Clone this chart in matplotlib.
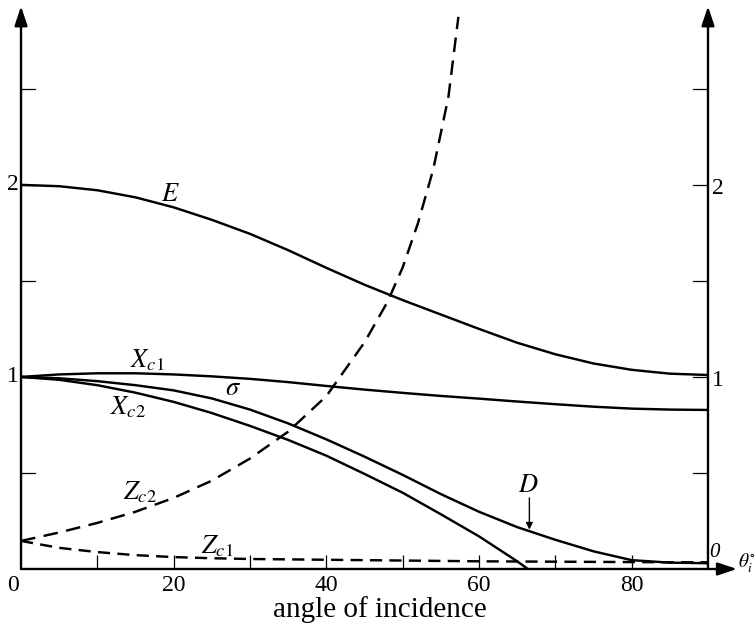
import matplotlib
matplotlib.use("Agg")
import matplotlib.pyplot as plt
import numpy as np

plt.rcParams['mathtext.fontset'] = 'stix'
plt.rcParams['font.family'] = ['Liberation Serif', 'DejaVu Serif']

# ---- data ----
angles = [0, 5, 10, 15, 20, 25, 30, 35, 40, 45, 50, 55, 60, 65, 70, 75, 80, 85, 90]
E_vals = [2.00, 1.993, 1.972, 1.935, 1.883, 1.818, 1.745, 1.66, 1.568, 1.48, 1.40,
          1.325, 1.25, 1.178, 1.118, 1.07, 1.037, 1.017, 1.01]
Xc1_vals = [1.0, 1.013, 1.019, 1.019, 1.013, 1.003, 0.99, 0.973, 0.953, 0.934, 0.917,
            0.901, 0.887, 0.872, 0.858, 0.845, 0.835, 0.83, 0.828]
sigma_vals = [1.0, 0.993, 0.978, 0.957, 0.93, 0.888, 0.83, 0.758, 0.675, 0.585, 0.49,
              0.39, 0.298, 0.218, 0.152, 0.092, 0.046, 0.033, 0.03]
Xc2_angles = [0, 5, 10, 15, 20, 25, 30, 35, 40, 45, 50, 55, 60, 65, 66.4]
Xc2_vals = [1.0, 0.985, 0.957, 0.918, 0.87, 0.812, 0.745, 0.672, 0.59, 0.495, 0.397,
            0.285, 0.17, 0.04, 0.0]
Zc2_angles = [0, 5, 10, 15, 20, 25, 30, 35, 40, 45, 48, 50, 52, 54, 56, 57.3]
Zc2_vals = [0.146, 0.19, 0.24, 0.298, 0.37, 0.46, 0.575, 0.715, 0.9, 1.18, 1.39, 1.57,
            1.80, 2.08, 2.46, 2.875]
Zc1_vals = [0.146, 0.11, 0.088, 0.072, 0.062, 0.056, 0.052, 0.05, 0.048, 0.046, 0.044,
            0.042, 0.04, 0.039, 0.038, 0.037, 0.036, 0.035, 0.035]

xtick_major = [20, 40, 60, 80]
xtick_all = [10, 20, 30, 40, 50, 60, 70, 80]
ytick_pos = [0.5, 1.0, 1.5, 2.0, 2.5]

fig = plt.figure(figsize=(7.56, 6.23), dpi=100)
ax = fig.add_axes([0.0278, 0.0867, 0.9087, 0.894])
ax.set_xlim(0, 90)
ax.set_ylim(0, 2.9)
for s in ax.spines.values():
    s.set_visible(False)

lw = 1.75
ax.plot(angles, E_vals, color='k', lw=lw)
ax.plot(angles, Xc1_vals, color='k', lw=lw)
ax.plot(angles, sigma_vals, color='k', lw=lw)
ax.plot(Xc2_angles, Xc2_vals, color='k', lw=lw)
ax.plot(Zc2_angles, Zc2_vals, color='k', lw=lw, dashes=(6, 3.5))
ax.plot(angles, Zc1_vals, color='k', lw=lw, dashes=(5, 3))

# axes with arrows
ap = dict(arrowstyle='-|>,head_length=0.9,head_width=0.3', lw=1.7, color='k',
          mutation_scale=13, shrinkA=0, shrinkB=0)
ax.annotate('', xy=(0, 2.93), xytext=(0, 0), arrowprops=ap, annotation_clip=False)
ax.annotate('', xy=(90, 2.93), xytext=(90, 0), arrowprops=ap, annotation_clip=False)
ax.annotate('', xy=(93.8, 0), xytext=(0, 0), arrowprops=ap, annotation_clip=False)

# ticks
ax.set_xticks(xtick_all)
ax.set_xticklabels([])
ax.tick_params(axis='x', direction='in', length=10, width=0.9)
ax.set_yticks([])
for y in ytick_pos:
    ax.plot([0, 1.8], [y, y], color='k', lw=0.9)
    ax.plot([88.0, 90], [y, y], color='k', lw=0.9)

fs = 17
for x in xtick_major:
    ax.text(x, -0.03, str(x), ha='center', va='top', fontsize=fs)
ax.text(-1.0, -0.03, '0', ha='center', va='top', fontsize=fs)
ax.text(-1.1, 1.0, '1', ha='center', va='center', fontsize=fs)
ax.text(-1.1, 2.0, '2', ha='center', va='center', fontsize=fs)
ax.text(90.5, 0.98, '1', ha='left', va='center', fontsize=fs)
ax.text(90.5, 1.98, '2', ha='left', va='center', fontsize=fs)
ax.text(90.2, 0.085, '0', ha='left', va='center', fontsize=15, style='italic')
ax.text(93.9, 0.03, r'$\theta_i^{\circ}$', ha='left', va='center', fontsize=14)
ax.text(47.0, -0.25, 'angle of incidence', ha='center', va='baseline', fontsize=21)

# curve labels
lf = 19
ax.text(19.6, 1.945, r'$E$', ha='center', va='center', fontsize=lf)
ax.text(16.5, 1.085, r'$X_{c1}$', ha='center', va='center', fontsize=lf)
ax.text(14.0, 0.84, r'$X_{c2}$', ha='center', va='center', fontsize=lf)
ax.text(27.8, 0.935, r'$\sigma$', ha='center', va='center', fontsize=lf)
ax.text(15.6, 0.40, r'$Z_{c2}$', ha='center', va='center', fontsize=lf)
ax.text(25.7, 0.12, r'$Z_{c1}$', ha='center', va='center', fontsize=lf)
ax.text(66.4, 0.43, r'$D$', ha='center', va='center', fontsize=lf)
ax.annotate('', xy=(66.6, 0.205), xytext=(66.6, 0.37),
            arrowprops=dict(arrowstyle='-|>', lw=1.0, color='k', mutation_scale=10,
                            shrinkA=0, shrinkB=0))

fig.savefig('out.png', dpi=100, facecolor='white')
